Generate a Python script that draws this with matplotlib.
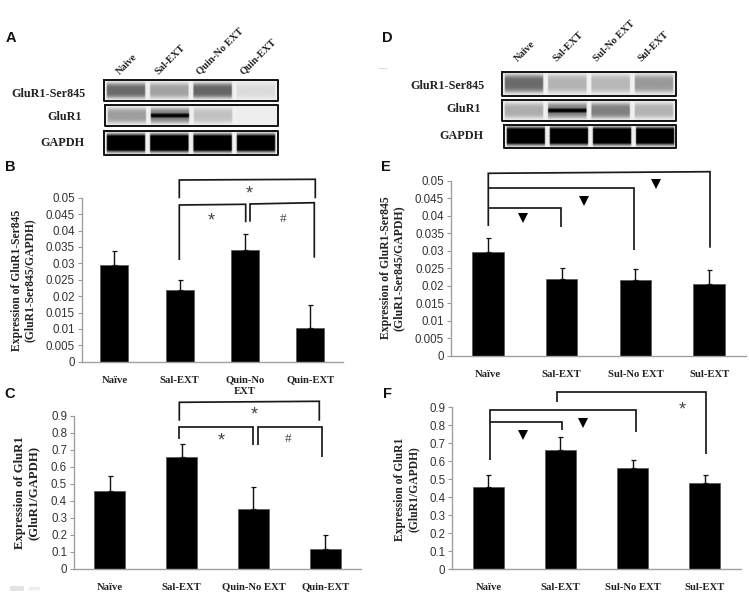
import numpy as np
import matplotlib
matplotlib.use('Agg')
import matplotlib.pyplot as plt

W, H = 749, 595

# bar values and the top of each error bar
naive_label = 'Naïve'
labels_b = [naive_label, 'Sal-EXT', 'Quin-No\nEXT', 'Quin-EXT']
vals_b = [0.0295, 0.0218, 0.034, 0.0102]
tops_b = [0.0336, 0.0248, 0.039, 0.0172]

labels_c = [naive_label, 'Sal-EXT', 'Quin-No EXT', 'Quin-EXT']
vals_c = [0.458, 0.66, 0.35, 0.118]
tops_c = [0.548, 0.733, 0.48, 0.2]

labels_e = [naive_label, 'Sal-EXT', 'Sul-No EXT', 'Sul-EXT']
vals_e = [0.0295, 0.022, 0.0217, 0.0206]
tops_e = [0.0336, 0.025, 0.0247, 0.0246]

labels_f = [naive_label, 'Sal-EXT', 'Sul-No EXT', 'Sul-EXT']
vals_f = [0.458, 0.66, 0.562, 0.477]
tops_f = [0.52, 0.732, 0.605, 0.52]

ticks_small = [0, 0.005, 0.01, 0.015, 0.02, 0.025, 0.03, 0.035, 0.04, 0.045, 0.05]
ticklabels_small = ['0', '0.005', '0.01', '0.015', '0.02', '0.025', '0.03', '0.035', '0.04', '0.045', '0.05']
ticks_big = [0, 0.1, 0.2, 0.3, 0.4, 0.5, 0.6, 0.7, 0.8, 0.9]
ticklabels_big = ['0', '0.1', '0.2', '0.3', '0.4', '0.5', '0.6', '0.7', '0.8', '0.9']

# blot band grey level per lane (0 black, 1 white), and the dark core strength
ser845_a = [0.42, 0.64, 0.40, 0.86]
glur1_a = [0.62, 0.50, 0.76, 0.93]
glur1_core_a = [0, 1, 0, 0]
gapdh = [0.0, 0.0, 0.0, 0.0]
ser845_d = [0.42, 0.70, 0.72, 0.60]
glur1_d = [0.68, 0.50, 0.50, 0.70]
glur1_core_d = [0, 1, 0, 0]
no_core = [0, 0, 0, 0]

lanes_a = ['Naive', 'Sal-EXT', 'Quin-No EXT', 'Quin-EXT']
lanes_d = ['Naive', 'Sal-EXT', 'Sul-No EXT', 'Sul-EXT']

fig = plt.figure(figsize=(W / 100, H / 100), dpi=100)


def make_axes(left, right, y0, ytop):
    return fig.add_axes([left / W, 1 - y0 / H, (right - left) / W, (y0 - ytop) / H])


def bar_panel(box, labels, vals, tops, ticks, ticklabels, ylab, ylab_x, ylab_y, ylab_size):
    left, right, y0, ytop = box
    ax = make_axes(left, right, y0, ytop)
    x = np.arange(4)
    errs = np.array(tops) - np.array(vals)
    ax.bar(x, vals, width=0.43, color='black', edgecolor='#555555', linewidth=0.5)
    ax.errorbar(x, vals, yerr=[np.zeros(4), errs], fmt='none', ecolor='#111111',
                elinewidth=1.0, capsize=1.8, capthick=0.9)
    ax.set_xlim(-0.5, 3.5)
    ax.set_ylim(ticks[0], ticks[-1])
    ax.set_yticks(ticks)
    ax.set_yticklabels(ticklabels, family='Liberation Sans', fontsize=8.3, color='#333333')
    ax.set_xticks(x)
    ax.set_xticklabels(labels, family='Liberation Serif', fontweight='bold', fontsize=7.7,
                       color='#222222', linespacing=1.4)
    ax.tick_params(axis='x', length=0, pad=10)
    ax.tick_params(axis='y', length=3, width=0.8, color='#999999', pad=2)
    for s in ['top', 'right']:
        ax.spines[s].set_visible(False)
    for s in ['left', 'bottom']:
        ax.spines[s].set_color('#a0a0a0')
        ax.spines[s].set_linewidth(1.0)
    fig.text(ylab_x / W, 1 - ylab_y / H, ylab, rotation=90, ha='center', va='center',
             family='Liberation Serif', fontweight='bold', fontsize=ylab_size, color='#222222',
             linespacing=1.15, multialignment='center')
    return ax


bar_panel((81.7, 343, 361.7, 197.7), labels_b, vals_b, tops_b, ticks_small, ticklabels_small,
          'Expression of GluR1-Ser845\n(GluR1-Ser845/GAPDH)', 23.5, 280, 8.4)
bar_panel((74, 361, 568.7, 415.7), labels_c, vals_c, tops_c, ticks_big, ticklabels_big,
          'Expression of GluR1\n(GluR1/GAPDH)', 27, 492.5, 9.2)
bar_panel((451, 746, 355.7, 180.7), labels_e, vals_e, tops_e, ticks_small, ticklabels_small,
          'Expression of GluR1-Ser845\n(GluR1-Ser845/GAPDH)', 392.5, 268, 8.5)
bar_panel((452.3, 740.7, 569, 407), labels_f, vals_f, tops_f, ticks_big, ticklabels_big,
          'Expression of GluR1\n(GluR1/GAPDH)', 407, 489, 8.4)

# overlay in pixel coordinates for blots, brackets and letters
ov = fig.add_axes([0, 0, 1, 1], zorder=5)
ov.patch.set_alpha(0)
ov.axis('off')


def blot(x0, x1, y0, y1, levels, core):
    h, w = 60, 260
    yy = np.linspace(-1, 1, h)[:, None]
    xx = np.linspace(0, 1, w)[None, :]
    img = np.full((h, w), 0.94)
    for i in range(4):
        c = 0.125 + 0.25 * i
        mask = np.clip((0.114 - np.abs(xx - c)) / 0.006, 0, 1)
        # softer, taller band than a plain gaussian
        broad = np.exp(-(yy / 0.72) ** 4)
        if levels[i] < 0.1:
            broad = np.clip(1.5 * np.exp(-(yy / 0.72) ** 4), 0, 1)
        band = 0.94 - (0.94 - levels[i]) * broad
        if core[i]:
            band = band * (1 - np.exp(-(yy / 0.2) ** 4) * core[i])
        img = img * (1 - mask) + band * mask
    ov.imshow(img, cmap='gray', vmin=0, vmax=1, extent=(x0, x1, y1, y0), aspect='auto',
              interpolation='bilinear')
    ov.plot([x0, x1, x1, x0, x0], [y0, y0, y1, y1, y0], color='#111111', lw=1.4)


blot(104.3, 277.7, 80, 100.7, ser845_a, no_core)
blot(105, 277.7, 105, 125.7, glur1_a, glur1_core_a)
blot(104.3, 277.7, 131, 155, gapdh, no_core)
blot(502.3, 675.7, 72, 96.3, ser845_d, no_core)
blot(502.3, 675.7, 100.3, 121, glur1_d, glur1_core_d)
blot(503.7, 676.3, 124.7, 148.3, gapdh, no_core)


def serif(x, y, s, **kw):
    ov.text(x, y, s, family='Liberation Serif', fontweight='bold', color='#222222', **kw)


serif(48.7, 94, 'GluR1-Ser845', fontsize=8.7, ha='center', va='center')
serif(64.3, 117, 'GluR1', fontsize=8.7, ha='center', va='center')
serif(62.7, 143.3, 'GAPDH', fontsize=8.7, ha='center', va='center')
serif(447.7, 86, 'GluR1-Ser845', fontsize=8.7, ha='center', va='center')
serif(463.3, 109.3, 'GluR1', fontsize=8.7, ha='center', va='center')
serif(461.7, 135.7, 'GAPDH', fontsize=8.7, ha='center', va='center')

for x, s in zip([121, 159.7, 201, 245], lanes_a):
    serif(x, 76, s, fontsize=7.4, rotation=45, ha='left', va='bottom', rotation_mode='anchor')
for x, s in zip([519.7, 558, 598.7, 643], lanes_d):
    serif(x, 63.7, s, fontsize=7.4, rotation=45, ha='left', va='bottom', rotation_mode='anchor')

for x, y, s in [(11, 38, 'A'), (387, 37.7, 'D'), (10, 167, 'B'), (386, 167, 'E'),
                (10, 394, 'C'), (387, 394, 'F')]:
    ov.text(x, y, s, family='Liberation Sans', fontweight='bold', fontsize=10.5,
            color='#111111', ha='center', va='center')


def path(xs, ys):
    ov.plot(xs, ys, color='#1a1a1a', lw=1.25, solid_capstyle='butt', solid_joinstyle='miter')


# B brackets
path([179.3, 179.3, 315.3, 315.3], [198.3, 180, 179.3, 198.3])
path([179.3, 179.3, 245.7, 245.7], [260, 205, 204.3, 222.3])
path([250, 250, 314.3, 314.3], [221.7, 204, 202.7, 257.7])
# C brackets
path([179.3, 179.3, 319.3, 319.3], [420.7, 402.3, 401.3, 420.7])
path([179.3, 179.3, 253.3, 253.3], [439.3, 426.7, 426.7, 445])
path([257.7, 257.7, 321.7, 321.7], [445, 426.7, 426.7, 457.3])
# E brackets
path([488.3, 488.3, 710, 710], [226, 173.3, 171.7, 247.7])
path([488.3, 634.3, 634.3], [188.3, 188.3, 250])
path([488.3, 561, 561], [207.7, 207.7, 226.7])
# F brackets
path([557, 557, 706, 706], [402.3, 392.3, 392.3, 454])
path([489.7, 489.7, 635.7, 635.7], [460, 410, 410, 432.3])
path([489.7, 562.3, 562.3], [421.7, 421.7, 430])

for x, y in [(523.3, 218.3), (584, 200.7), (655.7, 183.7), (523, 435), (583.3, 422.7)]:
    ov.plot([x], [y], marker='v', color='black', markersize=7, markeredgewidth=0)

for x, y in [(249.7, 194), (211, 221), (254.3, 415), (221, 441), (682.3, 410)]:
    ov.text(x, y, '*', family='Liberation Sans', fontsize=13, color='#444444', ha='center', va='center')
for x, y in [(282.7, 219), (287.7, 439)]:
    ov.text(x, y, '#', family='Liberation Serif', fontsize=9.5, color='#444444', ha='center', va='center')

# faint smudges left over in the source image
ov.plot([379, 387], [67.5, 67.5], color='#dddddd', lw=0.8)
ov.plot([12, 21], [588, 588], color='#e2e2e2', lw=3.5)
ov.plot([30, 38], [588, 588], color='#eeeeee', lw=2.5)

ov.set_xlim(0, W)
ov.set_ylim(H, 0)

fig.savefig('out.png', dpi=100)
